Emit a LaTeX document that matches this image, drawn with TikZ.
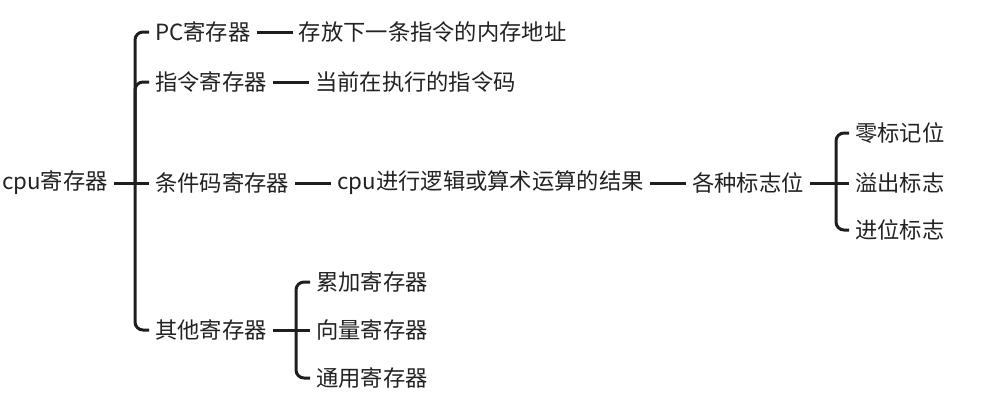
\documentclass[tikz,border=0pt]{standalone}
\usepackage{fontspec}
\usepackage{xcolor}
\usepackage{tikz}
\usetikzlibrary{positioning}
\newfontfamily\cjk{Noto Sans CJK SC}
\definecolor{inkdark}{HTML}{222222}
\definecolor{linedark}{HTML}{1E1E1E}
\tikzset{
  topic/.style={font=\cjk\fontsize{22.3}{25}\selectfont,text=inkdark,inner xsep=6pt,inner ysep=2pt,anchor=west},
  link/.style={draw=linedark,line width=3pt},
  fork/.style={draw=linedark,line width=3pt,rounded corners=8pt}
}
\begin{document}
\begin{tikzpicture}[x=1pt,y=-1pt,node distance=36pt]
  \useasboundingbox (0,0) rectangle (994,402);
  % root and first level
  \node[topic] (root) at (-4,183) {cpu寄存器};
  \coordinate (rootfork) at (135,183);
  \node[topic] (pcreg) at (149,32) {PC寄存器};
  \node[topic] (instreg) at (149,82) {指令寄存器};
  \node[topic] (condreg) at (149,183) {条件码寄存器};
  \node[topic] (otherreg) at (149,330) {其他寄存器};
  % chains to the right
  \node[topic,right=of pcreg] (pcdesc) {存放下一条指令的内存地址};
  \node[topic,right=of instreg] (instdesc) {当前在执行的指令码};
  \node[topic,right=of condreg] (conddesc) {cpu进行逻辑或算术运算的结果};
  \node[topic,right=of conddesc] (flags) {各种标志位};
  % flag bits
  \coordinate (flagfork) at (836,183);
  \node[topic] (zeroflag) at (849,133) {零标记位};
  \node[topic] (overflag) at (849,183) {溢出标志};
  \node[topic] (carryflag) at (849,230) {进位标志};
  % other registers
  \coordinate (otherfork) at (296,330);
  \node[topic] (accreg) at (310,282) {累加寄存器};
  \node[topic] (vecreg) at (310,330) {向量寄存器};
  \node[topic] (genreg) at (310,378) {通用寄存器};
  % connectors
  \draw[link] (root) -- (condreg);
  \draw[fork] (rootfork) |- (pcreg.west);
  \draw[fork] (rootfork) |- (instreg.west);
  \draw[fork] (rootfork) |- (otherreg.west);
  \draw[link] (pcreg) -- (pcdesc);
  \draw[link] (instreg) -- (instdesc);
  \draw[link] (condreg) -- (conddesc);
  \draw[link] (conddesc) -- (flags);
  \draw[link] (flags) -- (overflag);
  \draw[fork] (flagfork) |- (zeroflag.west);
  \draw[fork] (flagfork) |- (carryflag.west);
  \draw[link] (otherreg) -- (vecreg);
  \draw[fork] (otherfork) |- (accreg.west);
  \draw[fork] (otherfork) |- (genreg.west);
\end{tikzpicture}
\end{document}
